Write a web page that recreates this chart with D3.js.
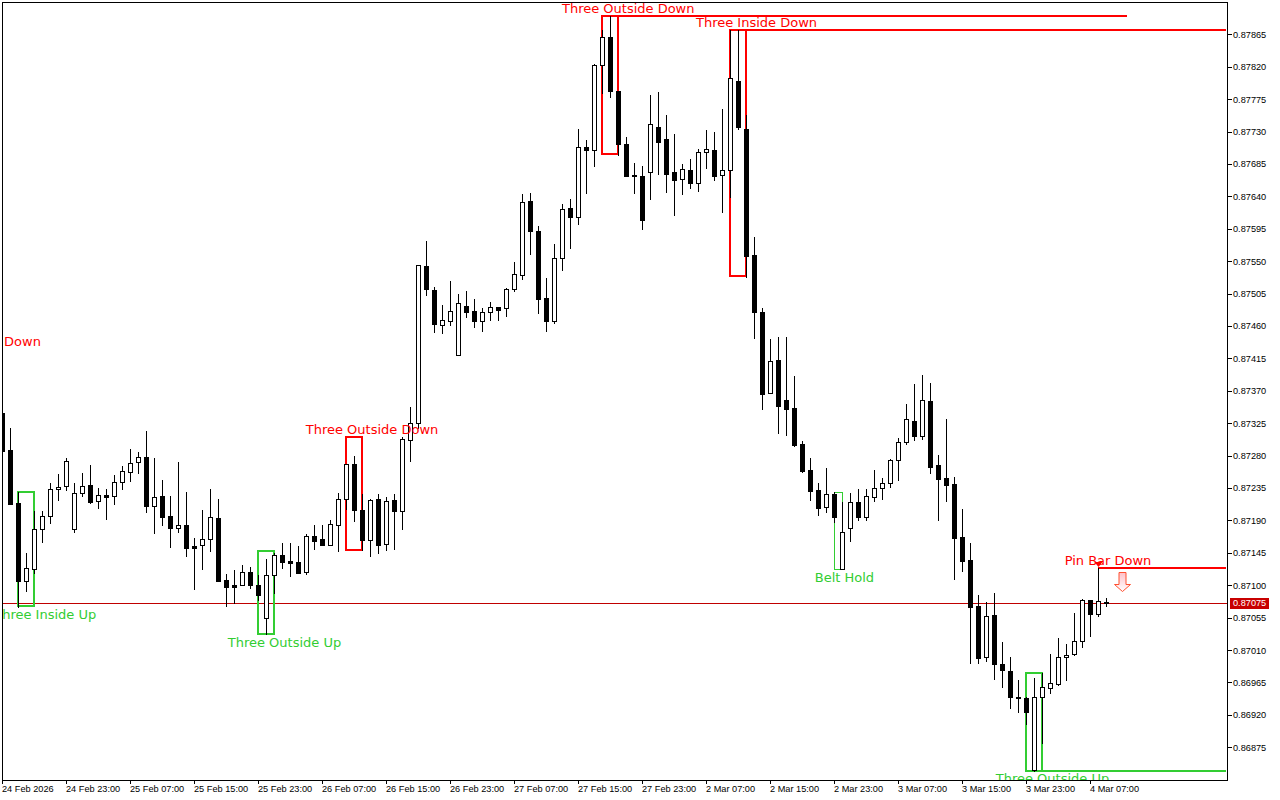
<!DOCTYPE html>
<html><head><meta charset="utf-8">
<script src="https://cdn.jsdelivr.net/npm/d3@7"></script>
<style>
html,body{margin:0;padding:0;background:#fff;overflow:hidden}
svg{display:block}
.ax text{font-family:"Liberation Sans",Arial,sans-serif;font-size:9.2px;fill:#000}
.lab{font-family:"DejaVu Sans",sans-serif;font-size:13px;text-anchor:middle;dominant-baseline:central}
</style></head><body>
<svg id="c" width="1280" height="800"></svg>
<script>
// prices in points (1 point = 0.00001)
const opens=[87339,87288,87214,87106,87123,87178,87196,87234,87238,87178,87228,87239,87217,87225,87224,87243,87257,87271,87278,87210,87224,87196,87179,87184,87155,87156,87164,87193,87107,87100,87100,87118,87100,87055,87114,87142,87134,87132,87118,87168,87164,87156,87183,87220,87268,87204,87163,87220,87157,87218,87203,87302,87325,87543,87510,87461,87467,87420,87488,87481,87467,87479,87486,87485,87511,87531,87634,87592,87499,87467,87554,87624,87611,87709,87704,87822,87861,87786,87713,87670,87668,87674,87736,87720,87674,87664,87677,87658,87702,87704,87670,87677,87800,87734,87559,87479,87367,87413,87357,87346,87296,87260,87232,87209,87227,87123,87179,87216,87195,87222,87235,87242,87274,87299,87328,87307,87356,87267,87249,87240,87167,87135,87071,87000,87059,86991,86981,86945,86944,86843,86945,86957,86963,87000,87005,87023,87080,87060,87077];
const highs=[87339,87318,87229,87145,87203,87203,87242,87254,87277,87242,87256,87267,87235,87234,87253,87266,87289,87285,87314,87277,87246,87224,87271,87229,87166,87204,87234,87220,87116,87121,87128,87125,87114,87136,87145,87159,87159,87155,87171,87184,87183,87191,87228,87268,87280,87227,87220,87227,87222,87227,87306,87348,87545,87578,87514,87489,87522,87504,87508,87497,87485,87493,87486,87513,87549,87643,87645,87599,87526,87574,87629,87636,87734,87718,87824,87871,87890,87786,87722,87686,87682,87781,87785,87753,87727,87685,87692,87706,87732,87729,87761,87871,87871,87753,87584,87485,87442,87445,87445,87391,87300,87277,87242,87263,87229,87216,87228,87234,87234,87260,87249,87275,87304,87352,87379,87392,87381,87281,87331,87250,87206,87159,87086,87077,87089,87021,87000,86968,86945,86971,86978,87005,87027,87019,87061,87081,87080,87124,87082];
const lows=[87286,87213,87070,87092,87117,87160,87186,87218,87232,87174,87224,87214,87207,87192,87213,87234,87245,87256,87202,87173,87184,87153,87174,87141,87095,87123,87148,87106,87071,87075,87100,87096,87080,87032,87089,87124,87113,87117,87116,87150,87156,87156,87148,87206,87189,87149,87141,87145,87149,87150,87178,87272,87318,87503,87452,87450,87461,87420,87472,87459,87453,87468,87468,87474,87508,87525,87560,87478,87453,87464,87538,87568,87602,87645,87682,87783,87778,87697,87668,87645,87595,87636,87671,87646,87614,87643,87652,87647,87679,87663,87618,87639,87734,87528,87443,87345,87367,87311,87308,87294,87257,87218,87197,87202,87188,87123,87161,87191,87191,87217,87220,87236,87246,87296,87302,87303,87256,87191,87217,87109,87120,86992,86992,86995,86970,86959,86930,86924,86907,86842,86881,86950,86961,86968,87003,87014,87030,87057,87071];
const closes=[87286,87213,87106,87124,87178,87196,87234,87236,87272,87228,87238,87216,87225,87222,87243,87259,87270,87278,87210,87222,87195,87179,87184,87152,87152,87164,87195,87106,87098,87098,87118,87100,87086,87114,87142,87132,87131,87117,87168,87161,87156,87185,87220,87268,87204,87163,87218,87156,87217,87203,87303,87325,87545,87511,87463,87468,87481,87492,87479,87467,87479,87486,87482,87511,87532,87632,87592,87497,87467,87554,87622,87611,87709,87704,87822,87861,87786,87713,87668,87668,87607,87740,87715,87671,87663,87678,87658,87702,87706,87668,87677,87804,87736,87557,87479,87366,87411,87349,87345,87295,87259,87231,87207,87227,87195,87174,87216,87195,87224,87235,87242,87274,87299,87331,87307,87357,87264,87247,87239,87166,87134,87070,86999,87057,86991,86983,86945,86944,86924,86945,86959,86964,87000,87003,87023,87080,87060,87078,87075];

const priceTicks=[87865,87820,87775,87730,87685,87640,87595,87550,87505,87460,87415,87370,87325,87280,87235,87190,87145,87100,87055,87010,86965,86920,86875];
const timeTickBars=[0,8,16,24,32,40,48,56,64,72,80,88,96,104,112,120,128,136];
const timeTickLabels=["24 Feb 2026","24 Feb 23:00","25 Feb 07:00","25 Feb 15:00","25 Feb 23:00","26 Feb 07:00","26 Feb 15:00","26 Feb 23:00","27 Feb 07:00","27 Feb 15:00","27 Feb 23:00","2 Mar 07:00","2 Mar 15:00","2 Mar 23:00","3 Mar 07:00","3 Mar 15:00","3 Mar 23:00","4 Mar 07:00"];

const bidPrice=87075;
const RED="#ff0000", GREEN="#32cd32";

// pattern boxes: first bar, last bar, top price, bottom price
const boxStart=[2,32,43,75,91,104,128];
const boxEnd=[4,34,45,77,93,105,130];
const boxTop=[87229,87148,87306,87890,87871,87229,86978];
const boxBottom=[87071,87032,87149,87699,87529,87123,86842];
const boxColor=[GREEN,GREEN,RED,RED,RED,GREEN,GREEN];
const boxWidth=[2,2,2,2,2,1,2];

// horizontal extension lines: from bar, to bar, price
const extFrom=[77,93,130,137];
const extTo=[140.6,153,153,153];
const extPrice=[87890,87871,86842,87124];
const extColor=[RED,RED,GREEN,RED];

// labels: text, centre bar, price
const labelText=["Three Inside Down","Three Inside Up","Three Outside Up","Three Outside Down","Three Outside Down","Three Inside Down","Belt Hold","Three Outside Up","Pin Bar Down"];
const labelBar=[-2.7,5.4,35.31,46.25,78.28,94.31,105.3,131.31,138.25];
const labelPrice=[87439,87060,87021,87316,87901,87882,87111,86831,87134];
const labelColor=[RED,GREEN,GREEN,RED,RED,RED,GREEN,GREEN,RED];

const L=2,R=1227,T=2,B=780;
const x=d3.scaleLinear().domain([0,138]).range([2,1106]);
const y=d3.scaleLinear().domain([87865,86875]).range([34.3,747.3]);
const px=v=>Math.round(x(v)), py=v=>Math.round(y(v));

const svg=d3.select("#c");
const defs=svg.append("defs");
defs.append("clipPath").attr("id","plot").append("rect")
  .attr("x",L).attr("y",T).attr("width",R-L).attr("height",B-T);
const plot=svg.append("g").attr("clip-path","url(#plot)").attr("shape-rendering","crispEdges");

// bid line
plot.append("line").attr("x1",L).attr("x2",R).attr("y1",py(bidPrice)+.5).attr("y2",py(bidPrice)+.5).attr("stroke","#c00000");

// boxes
const boxOff=i=>boxWidth[i]==2?0:.5;
plot.selectAll("rect.box").data(boxStart).join("rect").attr("class","box")
  .attr("x",(d,i)=>px(d)+boxOff(i))
  .attr("y",(d,i)=>py(boxTop[i])+boxOff(i))
  .attr("width",(d,i)=>px(boxEnd[i])-px(d))
  .attr("height",(d,i)=>py(boxBottom[i])-py(boxTop[i]))
  .attr("fill","none").attr("stroke",(d,i)=>boxColor[i]).attr("stroke-width",(d,i)=>boxWidth[i]);

// extensions
plot.selectAll("line.ext").data(extFrom).join("line").attr("class","ext")
  .attr("x1",d=>px(d)).attr("x2",(d,i)=>x(extTo[i]))
  .attr("y1",(d,i)=>py(extPrice[i])).attr("y2",(d,i)=>py(extPrice[i]))
  .attr("stroke",(d,i)=>extColor[i]).attr("stroke-width",2);

// candles
const bars=plot.selectAll("g.bar").data(d3.range(opens.length)).join("g").attr("class","bar");
bars.append("line")
  .attr("x1",i=>px(i)+.5).attr("x2",i=>px(i)+.5)
  .attr("y1",i=>py(highs[i])).attr("y2",i=>py(lows[i])+1)
  .attr("stroke","#000");
bars.append("rect")
  .each(function(i){
    const up=closes[i]>opens[i];
    const t=py(Math.max(opens[i],closes[i])), b=py(Math.min(opens[i],closes[i]));
    const s=d3.select(this);
    if(up){ s.attr("x",px(i)-1.5).attr("y",t+.5).attr("width",4).attr("height",Math.max(b-t,1)).attr("fill","#fff").attr("stroke","#000"); }
    else  { s.attr("x",px(i)-2).attr("y",t).attr("width",5).attr("height",Math.max(b-t+1,1)).attr("fill","#000"); }
  });

// pin bar markers
const ax=x(140)+.5;
const aT=py(87118)+.5, aM=py(87102)+.5, aB=aM+7;
const grad=defs.append("linearGradient").attr("id","ag").attr("x1",0).attr("x2",0).attr("y1",0).attr("y2",1);
grad.append("stop").attr("offset",0).attr("stop-color","#ffc0c8");
grad.append("stop").attr("offset",1).attr("stop-color","#ffffff");
plot.append("path").attr("shape-rendering","auto")
  .attr("d",`M${ax-3.5},${aT}H${ax+3.5}V${aM}H${ax+8}L${ax},${aB}L${ax-8},${aM}H${ax-3.5}Z`)
  .attr("fill","url(#ag)").attr("stroke","#ff5030").attr("stroke-width",1);
const mx=px(137)+.5, my=py(87124);
plot.append("path").attr("shape-rendering","auto")
  .attr("d",`M${mx-4},${my-6}H${mx+4}L${mx},${my-1}Z`).attr("fill",RED);

// labels
svg.append("g").attr("clip-path","url(#plot)").selectAll("text").data(labelText).join("text").attr("class","lab")
  .attr("x",(d,i)=>x(labelBar[i])).attr("y",(d,i)=>y(labelPrice[i]))
  .attr("fill",(d,i)=>labelColor[i]).text(d=>d);

// frame
svg.append("rect").attr("x",L+.5).attr("y",T+.5).attr("width",R-L).attr("height",B-T)
  .attr("fill","none").attr("stroke","#000").attr("shape-rendering","crispEdges");

// axes
const yAxis=d3.axisRight(y).tickValues(priceTicks).tickSize(5).tickPadding(1).tickFormat(d=>(d/1e5).toFixed(5));
const gy=svg.append("g").attr("class","ax").attr("transform",`translate(${R},0)`).call(yAxis);
gy.select(".domain").remove();
gy.selectAll("line").attr("shape-rendering","crispEdges");

const xAxis=d3.axisBottom(x).tickValues(timeTickBars).tickSize(4).tickPadding(1).tickFormat((d,i)=>timeTickLabels[i]);
const gx=svg.append("g").attr("class","ax").attr("transform",`translate(0,${B})`).call(xAxis);
gx.select(".domain").remove();
gx.selectAll("line").attr("shape-rendering","crispEdges");
gx.selectAll("text").attr("text-anchor","start").attr("x",-.5);

// bid label
const bp=py(bidPrice);
svg.append("rect").attr("x",R+3).attr("y",bp-5).attr("width",39).attr("height",11).attr("fill","#c80000").attr("shape-rendering","crispEdges");
svg.append("text").attr("class","bidt").attr("x",R+6).attr("y",bp+.5).attr("dy",".32em")
  .attr("font-family","Liberation Sans").attr("font-size","9.2px").attr("fill","#fff").text((bidPrice/1e5).toFixed(5));
</script>
</body></html>
